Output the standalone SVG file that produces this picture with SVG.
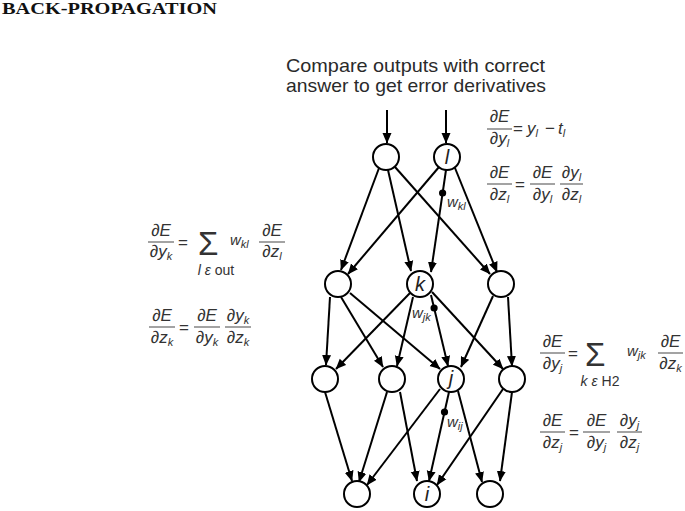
<svg xmlns="http://www.w3.org/2000/svg" width="685" height="511" viewBox="0 0 685 511">
<style>
.title{font-family:"Liberation Serif",serif;font-weight:bold;font-size:16px;fill:#111}
.cap{font-family:"Liberation Sans",Arial,sans-serif;font-size:19px;fill:#2a2a2a}
.m{font-family:"Liberation Sans",Arial,sans-serif;font-style:italic;font-size:17px;fill:#333}
.r{font-family:"Liberation Sans",Arial,sans-serif;font-style:normal;font-size:17px;fill:#333}
.sig{font-family:"Liberation Sans",Arial,sans-serif;font-style:normal;font-size:33px;fill:#333}
.sm{font-family:"Liberation Sans",Arial,sans-serif;font-size:14px;fill:#333}
.s{font-size:11px}
.fl{stroke:#666;stroke-width:1.2}
.e{stroke:#000;stroke-width:2;fill:none;marker-end:url(#ah)}
.n{fill:#fff;stroke:#000;stroke-width:2}
.nl{font-family:"Liberation Sans",Arial,sans-serif;font-style:italic;font-size:20px;fill:#222;text-anchor:middle}
.w{font-family:"Liberation Sans",Arial,sans-serif;font-style:italic;font-size:15px;fill:#333}
.dot{fill:#000}
</style>
<defs>
<marker id="ah" markerWidth="11" markerHeight="10" refX="10" refY="5" orient="auto" markerUnits="userSpaceOnUse">
<path d="M0,0.5 L10.5,5 L0,9.5 z" fill="#000"/>
</marker>
</defs>
<rect width="685" height="511" fill="#fff"/>
<text class="title" x="2" y="14" textLength="215" lengthAdjust="spacingAndGlyphs">BACK-PROPAGATION</text>
<text class="cap" x="286" y="72" textLength="259" lengthAdjust="spacingAndGlyphs">Compare outputs with correct</text>
<text class="cap" x="286" y="92" textLength="260" lengthAdjust="spacingAndGlyphs">answer to get error derivatives</text>

<g id="connectors">
<line class="e" x1="387" y1="110" x2="387" y2="143"/>
<line class="e" x1="446" y1="110" x2="446" y2="143"/>
<line class="e" x1="379" y1="168" x2="341" y2="270"/>
<line class="e" x1="388" y1="170" x2="411" y2="271"/>
<line class="e" x1="395" y1="167" x2="490" y2="274"/>
<line class="e" x1="439" y1="167" x2="348" y2="274"/>
<line class="e" x1="446" y1="170" x2="431" y2="272"/>
<line class="e" x1="455" y1="168" x2="497" y2="272"/>
<line class="e" x1="330" y1="297" x2="326" y2="365"/>
<line class="e" x1="341" y1="297" x2="383" y2="367"/>
<line class="e" x1="350" y1="293" x2="440" y2="369"/>
<line class="e" x1="410" y1="293" x2="336" y2="369"/>
<line class="e" x1="413" y1="297" x2="397" y2="366"/>
<line class="e" x1="431" y1="295" x2="448" y2="366"/>
<line class="e" x1="432" y1="292" x2="503" y2="369"/>
<line class="e" x1="493" y1="296" x2="461" y2="367"/>
<line class="e" x1="508" y1="297" x2="512" y2="366"/>
<line class="e" x1="325" y1="392" x2="352" y2="481"/>
<line class="e" x1="387" y1="392" x2="359" y2="482"/>
<line class="e" x1="400" y1="392" x2="417" y2="481"/>
<line class="e" x1="440" y1="389" x2="367" y2="485"/>
<line class="e" x1="449" y1="392" x2="429" y2="481"/>
<line class="e" x1="458" y1="391" x2="482" y2="482"/>
<line class="e" x1="503" y1="389" x2="437" y2="485"/>
<line class="e" x1="512" y1="392" x2="500" y2="481"/>
<circle class="dot" cx="442.6" cy="193" r="3.6"/>
<circle class="dot" cx="434.1" cy="308" r="3.6"/>
<circle class="dot" cx="444.5" cy="412" r="3.6"/>
<text class="w" x="447" y="207">w<tspan class="s" dy="3">kl</tspan></text>
<text class="w" x="412" y="318">w<tspan class="s" dy="3">jk</tspan></text>
<text class="w" x="447" y="427">w<tspan class="s" dy="3">ij</tspan></text>
</g>

<g id="n-out1"><circle class="n" cx="386" cy="157" r="13"/></g>
<g id="n-l"><circle class="n" cx="447" cy="157" r="13"/><text class="nl" x="447" y="164">l</text></g>
<g id="n-h2a"><circle class="n" cx="338" cy="284" r="13"/></g>
<g id="n-k"><circle class="n" cx="420" cy="284" r="13"/><text class="nl" x="420" y="291">k</text></g>
<g id="n-h2c"><circle class="n" cx="501" cy="284" r="13"/></g>
<g id="n-h1a"><circle class="n" cx="325" cy="379" r="13"/></g>
<g id="n-h1b"><circle class="n" cx="392" cy="379" r="13"/></g>
<g id="n-j"><circle class="n" cx="451" cy="379" r="13"/><text class="nl" x="451" y="385">j</text></g>
<g id="n-h1d"><circle class="n" cx="512" cy="379" r="13"/></g>
<g id="n-in1"><circle class="n" cx="357" cy="494" r="13"/></g>
<g id="n-i"><circle class="n" cx="427" cy="494" r="13"/><text class="nl" x="427" y="501">i</text></g>
<g id="n-in3"><circle class="n" cx="490" cy="494" r="13"/></g>

<g id="eq-top1">
<text class="m" x="499.5" y="122" text-anchor="middle">∂E</text>
<line class="fl" x1="487" y1="129" x2="512" y2="129"/>
<text class="m" x="499.5" y="144" text-anchor="middle">∂y<tspan class="s" dy="3">l</tspan></text>
<text class="r" x="513" y="134">=</text>
<text class="m" x="527" y="134">y<tspan class="s" dy="3">l</tspan></text>
<text class="r" x="545" y="134">−</text>
<text class="m" x="558" y="134">t<tspan class="s" dy="3">l</tspan></text>
</g>
<g id="eq-top2">
<text class="m" x="499.5" y="178" text-anchor="middle">∂E</text>
<line class="fl" x1="487" y1="184" x2="512" y2="184"/>
<text class="m" x="499.5" y="200" text-anchor="middle">∂z<tspan class="s" dy="3">l</tspan></text>
<text class="r" x="515" y="190">=</text>
<text class="m" x="542.5" y="178" text-anchor="middle">∂E</text>
<line class="fl" x1="530" y1="184" x2="555" y2="184"/>
<text class="m" x="542.5" y="200" text-anchor="middle">∂y<tspan class="s" dy="3">l</tspan></text>
<text class="m" x="571.5" y="178" text-anchor="middle">∂y<tspan class="s" dy="3">l</tspan></text>
<line class="fl" x1="560" y1="184" x2="583" y2="184"/>
<text class="m" x="571.5" y="200" text-anchor="middle">∂z<tspan class="s" dy="3">l</tspan></text>
</g>

<g id="eq-left1">
<text class="m" x="161" y="236" text-anchor="middle">∂E</text>
<line class="fl" x1="148" y1="242" x2="174" y2="242"/>
<text class="m" x="161" y="257" text-anchor="middle">∂y<tspan class="s" dy="3">k</tspan></text>
<text class="r" x="178" y="248">=</text>
<text class="sig" x="198" y="255">Σ</text>
<text class="w" x="230" y="245">w<tspan class="s" dy="3">kl</tspan></text>
<text class="m" x="272" y="236" text-anchor="middle">∂E</text>
<line class="fl" x1="259" y1="242" x2="285" y2="242"/>
<text class="m" x="272" y="257" text-anchor="middle">∂z<tspan class="s" dy="3">l</tspan></text>
<text class="sm" x="216" y="275" text-anchor="middle"><tspan font-style="italic">l ε </tspan>out</text>
</g>
<g id="eq-left2">
<text class="m" x="162" y="321" text-anchor="middle">∂E</text>
<line class="fl" x1="149" y1="327" x2="175" y2="327"/>
<text class="m" x="162" y="343" text-anchor="middle">∂z<tspan class="s" dy="3">k</tspan></text>
<text class="r" x="179" y="333">=</text>
<text class="m" x="207" y="321" text-anchor="middle">∂E</text>
<line class="fl" x1="194" y1="327" x2="220" y2="327"/>
<text class="m" x="207" y="343" text-anchor="middle">∂y<tspan class="s" dy="3">k</tspan></text>
<text class="m" x="238" y="321" text-anchor="middle">∂y<tspan class="s" dy="3">k</tspan></text>
<line class="fl" x1="225" y1="327" x2="251" y2="327"/>
<text class="m" x="238" y="343" text-anchor="middle">∂z<tspan class="s" dy="3">k</tspan></text>
</g>

<g id="eq-right1">
<text class="m" x="552.5" y="347" text-anchor="middle">∂E</text>
<line class="fl" x1="540" y1="353" x2="565" y2="353"/>
<text class="m" x="552.5" y="369" text-anchor="middle">∂y<tspan class="s" dy="3">j</tspan></text>
<text class="r" x="568" y="359">=</text>
<text class="sig" x="585" y="366">Σ</text>
<text class="w" x="627" y="356">w<tspan class="s" dy="3">jk</tspan></text>
<text class="m" x="670.5" y="347" text-anchor="middle">∂E</text>
<line class="fl" x1="658" y1="353" x2="683" y2="353"/>
<text class="m" x="670.5" y="369" text-anchor="middle">∂z<tspan class="s" dy="3">k</tspan></text>
<text class="sm" x="600" y="386" text-anchor="middle"><tspan font-style="italic">k ε </tspan>H2</text>
</g>
<g id="eq-right2">
<text class="m" x="552.5" y="426" text-anchor="middle">∂E</text>
<line class="fl" x1="540" y1="432" x2="565" y2="432"/>
<text class="m" x="552.5" y="448" text-anchor="middle">∂z<tspan class="s" dy="3">j</tspan></text>
<text class="r" x="569" y="438">=</text>
<text class="m" x="596.5" y="426" text-anchor="middle">∂E</text>
<line class="fl" x1="583" y1="432" x2="610" y2="432"/>
<text class="m" x="596.5" y="448" text-anchor="middle">∂y<tspan class="s" dy="3">j</tspan></text>
<text class="m" x="629.5" y="426" text-anchor="middle">∂y<tspan class="s" dy="3">j</tspan></text>
<line class="fl" x1="617" y1="432" x2="642" y2="432"/>
<text class="m" x="629.5" y="448" text-anchor="middle">∂z<tspan class="s" dy="3">j</tspan></text>
</g>
</svg>
